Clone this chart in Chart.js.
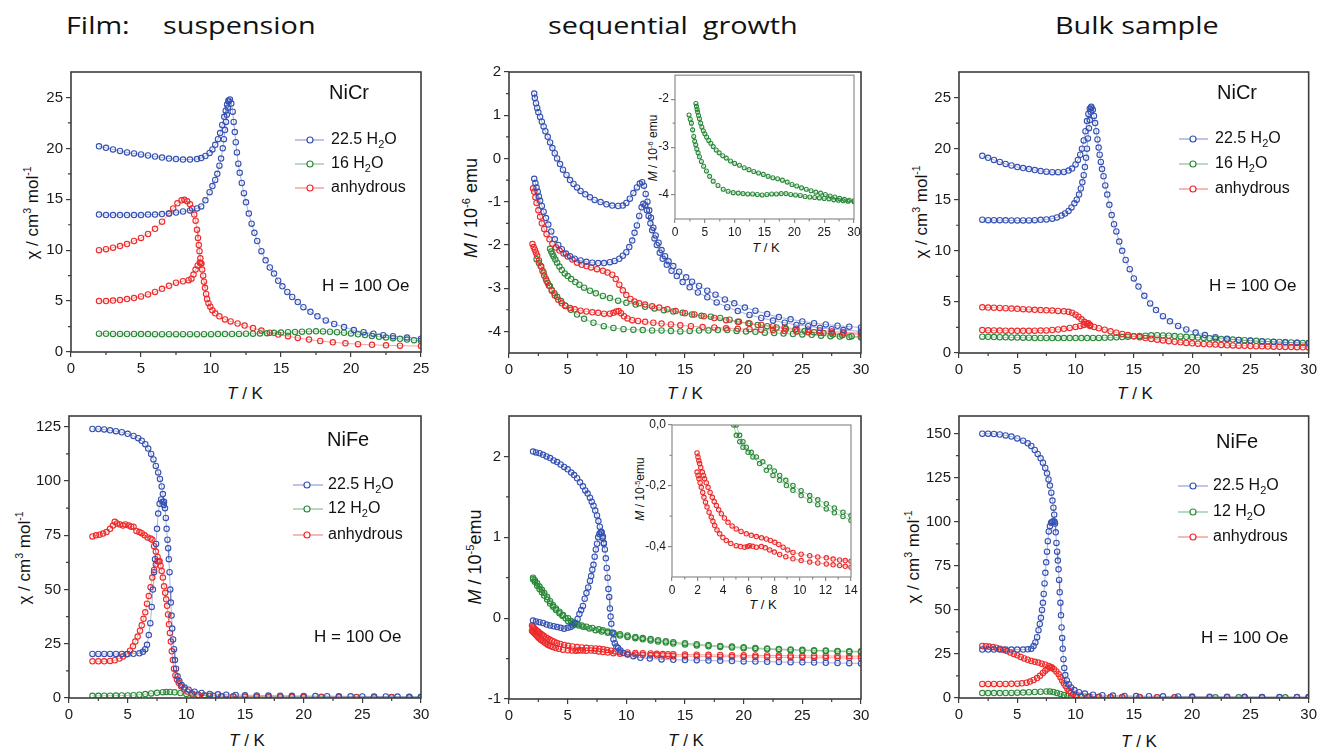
<!DOCTYPE html>
<html>
<head>
<meta charset="utf-8">
<script src="https://cdn.jsdelivr.net/npm/chart.js"></script>
<style>
  body { margin: 0; background: #fff; }
  #page { position: relative; width: 1320px; height: 751px; overflow: hidden; font-family: "Liberation Sans", Arial, sans-serif; color: #111; }
  .head { position: absolute; top: 13px; font-family: "Open Sans", sans-serif; font-size: 24px; line-height: 24px; transform-origin: left center; transform: scaleX(1.2); white-space: pre; color: #111; }
  .xt, .yt { position: absolute; white-space: nowrap; font-size: 17px; line-height: 1; }
  .xt { transform: translate(-50%, -50%); }
  .yt { transform: translate(-50%, -50%) rotate(-90deg); }
  .small { font-size: 12px; }
  sup { font-size: 0.62em; vertical-align: 0.6em; line-height: 0; }
</style>
</head>
<body>
<div id="page">
  <div class="head" style="left:66px">Film:</div>
  <div class="head" style="left:163px">suspension</div>
  <div class="head" style="left:548px">sequential  growth</div>
  <div class="head" style="left:1055px">Bulk sample</div>

  <div class="xt" style="left:245px;top:393px"><i>T</i> / K</div>
  <div class="xt" style="left:685px;top:393px"><i>T</i> / K</div>
  <div class="xt" style="left:1135px;top:393px"><i>T</i> / K</div>
  <div class="xt" style="left:247px;top:740px"><i>T</i> / K</div>
  <div class="xt" style="left:686px;top:740px"><i>T</i> / K</div>
  <div class="xt" style="left:1139px;top:741px"><i>T</i> / K</div>

  <div class="yt" style="left:32px;top:213px">χ / cm<sup>3</sup> mol<sup>-1</sup></div>
  <div class="yt" style="left:471px;top:208px;font-size:18px"><i>M</i> / 10<sup>-6</sup> emu</div>
  <div class="yt" style="left:921px;top:212px">χ / cm<sup>3</sup> mol<sup>-1</sup></div>
  <div class="yt" style="left:24px;top:558px">χ / cm<sup>3</sup> mol<sup>-1</sup></div>
  <div class="yt" style="left:475px;top:557px;font-size:18px"><i>M</i> / 10<sup>-5</sup>emu</div>
  <div class="yt" style="left:913px;top:557px">χ / cm<sup>3</sup> mol<sup>-1</sup></div>

  <div class="xt" style="left:766px;top:247px;font-size:13px"><i>T</i> / K</div>
  <div class="yt small" style="left:653px;top:148px"><i>M</i> / 10<sup>-6</sup> emu</div>
  <div class="xt" style="left:763px;top:604px;font-size:13px"><i>T</i> / K</div>
  <div class="yt small" style="left:640px;top:489px"><i>M</i> / 10<sup>-5</sup>emu</div>
</div>
<script>
// ---- Film (suspension), NiCr : [T, chi] ----
const susCrFC225 = [[2,20.2],[2.5,20.05],[3,19.9],[3.5,19.75],[4,19.6],[4.5,19.5],[5,19.4],[5.5,19.3],[6,19.2],[6.5,19.1],[7,19.0],[7.5,18.95],[8,18.9],[8.5,18.9],[9,18.95],[9.3,19.05],[9.6,19.25],[9.9,19.55],[10.1,19.9],[10.3,20.35],[10.5,20.9],[10.65,21.5],[10.8,22.3],[10.95,23.1],[11.05,23.7],[11.15,24.3],[11.25,24.7],[11.35,24.8],[11.45,24.4],[11.55,23.6],[11.62,22.6],[11.7,21.6],[11.77,20.6],[11.85,19.6],[11.95,18.5],[12.05,17.6],[12.2,16.6],[12.35,15.6],[12.5,14.7],[12.7,13.6],[12.9,12.6],[13.1,11.7],[13.3,10.9],[13.6,9.9],[13.9,9.0],[14.2,8.3],[14.5,7.7],[14.8,7.0],[15.1,6.45],[15.45,5.9],[15.8,5.4],[16.2,4.9],[16.6,4.4],[17.1,3.95],[17.6,3.5],[18.2,3.1],[18.8,2.75],[19.5,2.45],[20.2,2.15],[20.9,1.95],[21.6,1.8],[22.3,1.65],[23,1.55],[24,1.42],[25,1.3]];
const susCrZFC225 = [[2,13.5],[2.5,13.45],[3,13.45],[3.5,13.45],[4,13.45],[4.5,13.45],[5,13.45],[5.5,13.5],[6,13.5],[6.5,13.55],[7,13.6],[7.5,13.7],[8,13.8],[8.5,13.9],[9,14.1],[9.3,14.3],[9.6,14.9],[9.9,15.7],[10.1,16.3],[10.3,16.9],[10.45,17.5],[10.6,18.3],[10.72,19.0],[10.84,20.0],[10.92,20.9],[11.0,21.8],[11.07,22.6],[11.13,23.3],[11.2,24.0],[11.25,24.6]];
const susCr16 = [[2,1.8],[2.5,1.79],[3,1.78],[3.5,1.78],[4,1.77],[4.5,1.77],[5,1.76],[5.5,1.76],[6,1.75],[6.5,1.75],[7,1.75],[7.5,1.75],[8,1.75],[8.5,1.75],[9,1.75],[9.5,1.75],[10,1.75],[10.5,1.76],[11,1.76],[11.5,1.77],[12,1.78],[12.5,1.79],[13,1.8],[13.5,1.82],[14,1.85],[14.5,1.88],[15,1.91],[15.5,1.94],[16,1.97],[16.5,2.0],[17,2.02],[17.5,2.03],[18,2.02],[18.5,1.99],[19,1.95],[19.5,1.89],[20,1.82],[20.5,1.74],[21,1.66],[21.5,1.58],[22,1.5],[22.5,1.43],[23,1.36],[23.5,1.29],[24,1.22],[24.5,1.16],[25,1.1]];
const susCrAnhFC = [[2,10.0],[2.5,10.1],[3,10.25],[3.5,10.4],[4,10.6],[4.5,10.9],[5,11.2],[5.5,11.6],[6,12.1],[6.5,12.8],[7,13.6],[7.3,14.1],[7.6,14.6],[7.9,14.9],[8.1,14.95],[8.3,14.8],[8.5,14.5],[8.65,14.1],[8.8,13.5],[8.9,12.9],[9.0,12.0],[9.07,11.2],[9.13,10.5],[9.18,9.9],[9.24,9.2],[9.3,8.7],[9.37,8.1],[9.44,7.5],[9.5,6.9],[9.57,6.3],[9.65,5.7],[9.72,5.2],[9.82,4.8],[9.95,4.45],[10.1,4.1],[10.3,3.8],[10.6,3.5],[11.0,3.2],[11.4,3.0],[11.9,2.8],[12.4,2.6],[13,2.35],[13.6,2.1],[14.2,1.9],[14.8,1.72],[15.5,1.55],[16.2,1.38],[17,1.22],[17.8,1.08],[18.7,0.95],[19.6,0.85],[20.5,0.77],[21.5,0.7],[22.5,0.66],[23.5,0.62],[25,0.58]];
const susCrAnhZFC = [[2,5.0],[2.5,5.0],[3,5.05],[3.5,5.1],[4,5.2],[4.5,5.3],[5,5.45],[5.5,5.65],[6,5.9],[6.5,6.2],[7,6.5],[7.5,6.8],[8,6.95],[8.4,7.05],[8.6,7.2],[8.75,7.6],[8.9,8.1],[9.05,8.5],[9.2,8.8],[9.3,8.7]];

// ---- Sequential growth, NiCr : [T, M / 1e-6 emu] ----
const seqCrFC225 = [[2.15,1.5],[2.2,1.4],[2.3,1.28],[2.4,1.17],[2.5,1.07],[2.65,0.96],[2.8,0.85],[2.95,0.74],[3.1,0.63],[3.3,0.5],[3.5,0.37],[3.7,0.24],[3.9,0.12],[4.1,0.0],[4.35,-0.13],[4.6,-0.26],[4.9,-0.38],[5.2,-0.5],[5.5,-0.59],[5.8,-0.67],[6.1,-0.75],[6.5,-0.83],[6.9,-0.9],[7.3,-0.96],[7.8,-1.01],[8.3,-1.06],[8.8,-1.09],[9.3,-1.1],[9.7,-1.09],[10.0,-1.03],[10.3,-0.93],[10.6,-0.8],[10.9,-0.67],[11.15,-0.58],[11.35,-0.55],[11.5,-0.63],[11.65,-0.82],[11.8,-1.0],[11.95,-1.2],[12.1,-1.37],[12.3,-1.6],[12.5,-1.78],[12.75,-1.95],[13.0,-2.12],[13.3,-2.26],[13.6,-2.38],[14.0,-2.49],[14.5,-2.62],[15.1,-2.75],[15.6,-2.85],[16.2,-2.95],[16.9,-3.06],[17.6,-3.15],[18.4,-3.26],[19.2,-3.35],[20.1,-3.45],[21,-3.52],[22,-3.6],[23,-3.67],[24,-3.72],[25,-3.77],[26,-3.81],[27,-3.84],[28,-3.87],[29,-3.89],[30,-3.91]];
const seqCrZFC225 = [[2.15,-0.47],[2.25,-0.57],[2.35,-0.67],[2.45,-0.77],[2.55,-0.88],[2.65,-0.98],[2.8,-1.1],[2.95,-1.23],[3.15,-1.38],[3.35,-1.53],[3.6,-1.69],[3.9,-1.87],[4.2,-2.0],[4.5,-2.1],[4.85,-2.2],[5.2,-2.26],[5.6,-2.32],[6.1,-2.36],[6.6,-2.39],[7.1,-2.41],[7.6,-2.42],[8.1,-2.42],[8.6,-2.4],[9.0,-2.37],[9.4,-2.32],[9.7,-2.25],[10.0,-2.17],[10.25,-2.05],[10.5,-1.9],[10.7,-1.72],[10.9,-1.55],[11.1,-1.33],[11.3,-1.13],[11.45,-1.05],[11.6,-1.08],[11.75,-1.2],[11.9,-1.33],[12.05,-1.5],[12.2,-1.66],[12.4,-1.85],[12.6,-2.0],[12.85,-2.18],[13.1,-2.32],[13.45,-2.46],[13.85,-2.6],[14.3,-2.72],[14.8,-2.86],[15.4,-2.98],[16.1,-3.1],[16.9,-3.21],[17.7,-3.33],[18.6,-3.44],[19.5,-3.53],[20.5,-3.62],[21.5,-3.69],[22.5,-3.75],[23.5,-3.8],[24.5,-3.85],[25.5,-3.88],[26.5,-3.92],[27.5,-3.95],[28.5,-3.97],[30,-4.0]];
const seqCr16FC = [[3.5,-2.09],[3.6,-2.15],[3.7,-2.21],[3.8,-2.27],[3.95,-2.34],[4.1,-2.41],[4.3,-2.5],[4.5,-2.58],[4.75,-2.66],[5.0,-2.72],[5.3,-2.79],[5.65,-2.86],[6.0,-2.92],[6.4,-2.99],[6.9,-3.06],[7.4,-3.12],[8.0,-3.18],[8.6,-3.23],[9.3,-3.29],[10.0,-3.34],[10.8,-3.38],[11.6,-3.43],[12.4,-3.47],[13.2,-3.51],[14.0,-3.54],[14.8,-3.57],[15.6,-3.61],[16.4,-3.64],[17.2,-3.66],[18.0,-3.69],[18.8,-3.73],[19.6,-3.78],[20.4,-3.81],[21.2,-3.85],[22.0,-3.88],[22.8,-3.91],[23.6,-3.94],[24.4,-3.96],[25.2,-3.99],[26,-4.02],[26.8,-4.04],[27.6,-4.07],[28.4,-4.09],[29.2,-4.11],[30,-4.12]];
const seqCr16ZFC = [[2.35,-2.33],[2.55,-2.42],[2.75,-2.5],[2.95,-2.64],[3.14,-2.78],[3.3,-2.88],[3.48,-2.95],[3.65,-3.04],[3.87,-3.12],[4.1,-3.2],[4.43,-3.3],[4.8,-3.4],[5.27,-3.5],[5.8,-3.61],[6.4,-3.71],[7.2,-3.8],[8.08,-3.88],[8.9,-3.92],[9.76,-3.95],[10.6,-3.96],[11.4,-3.97],[12.2,-3.98],[13.0,-3.98],[13.8,-3.99],[14.6,-4.0],[15.4,-3.99],[16.2,-3.98],[17.0,-3.98],[17.8,-3.97],[18.6,-3.97],[19.4,-3.99],[20.2,-4.0],[21.0,-4.01],[21.8,-4.03],[22.6,-4.04],[23.4,-4.05],[24.2,-4.06],[25,-4.07],[25.8,-4.08],[26.6,-4.1],[27.4,-4.11],[28.2,-4.12],[29,-4.13],[30,-4.14]];
const seqCrAnhFC = [[2.05,-0.69],[2.15,-0.77],[2.25,-0.9],[2.35,-1.03],[2.5,-1.2],[2.65,-1.35],[2.8,-1.5],[3.0,-1.63],[3.2,-1.75],[3.45,-1.87],[3.7,-1.97],[4.0,-2.06],[4.3,-2.13],[4.65,-2.2],[5.0,-2.27],[5.4,-2.34],[5.8,-2.41],[6.2,-2.46],[6.6,-2.49],[7.0,-2.52],[7.5,-2.56],[8.0,-2.6],[8.4,-2.64],[8.8,-2.69],[9.1,-2.79],[9.4,-2.92],[9.7,-3.05],[10.0,-3.16],[10.35,-3.25],[10.7,-3.31],[11.1,-3.35],[11.6,-3.38],[12.2,-3.42],[12.8,-3.45],[13.5,-3.49],[14.2,-3.53],[15,-3.58],[15.8,-3.61],[16.6,-3.65],[17.5,-3.69],[18.5,-3.74],[19.5,-3.78],[20.5,-3.82],[21.5,-3.85],[22.5,-3.88],[23.5,-3.91],[24.5,-3.94],[25.5,-3.96],[26.5,-3.98],[27.5,-4.0],[28.5,-4.02],[30,-4.04]];
const seqCrAnhZFC = [[2.0,-1.98],[2.1,-2.05],[2.2,-2.11],[2.3,-2.18],[2.4,-2.25],[2.55,-2.36],[2.7,-2.49],[2.85,-2.6],[3.0,-2.71],[3.2,-2.83],[3.4,-2.94],[3.65,-3.06],[3.9,-3.17],[4.2,-3.27],[4.5,-3.35],[4.8,-3.41],[5.2,-3.46],[5.6,-3.49],[6.1,-3.52],[6.6,-3.54],[7.1,-3.56],[7.6,-3.57],[8.1,-3.59],[8.6,-3.59],[8.9,-3.57],[9.15,-3.54],[9.35,-3.53],[9.55,-3.58],[9.8,-3.65],[10.1,-3.7],[10.5,-3.74],[11,-3.76],[11.6,-3.78],[12.3,-3.8],[13,-3.82],[13.8,-3.84],[14.6,-3.86],[15.5,-3.88],[16.5,-3.9],[17.5,-3.91],[18.5,-3.93],[19.5,-3.94],[20.5,-3.95],[21.5,-3.96],[22.5,-3.97],[23.5,-3.99],[24.5,-4.0],[25.5,-4.02],[26.5,-4.03],[27.5,-4.04],[28.5,-4.05],[30,-4.07]];

// ---- Bulk sample, NiCr ----
const bulkCrFC225 = [[2,19.3],[2.5,19.1],[3,18.9],[3.5,18.7],[4,18.5],[4.5,18.35],[5,18.2],[5.5,18.1],[6,18.0],[6.5,17.9],[7,17.8],[7.5,17.75],[8,17.7],[8.5,17.7],[9,17.72],[9.4,17.85],[9.7,18.05],[10.0,18.45],[10.2,18.9],[10.4,19.4],[10.55,20.0],[10.7,20.8],[10.85,21.7],[10.98,22.7],[11.1,23.4],[11.22,23.9],[11.35,24.1],[11.48,23.8],[11.58,23.2],[11.68,22.5],[11.78,21.7],[11.88,20.9],[11.98,20.1],[12.07,19.4],[12.17,18.7],[12.27,18.0],[12.4,17.3],[12.55,16.4],[12.72,15.5],[12.9,14.5],[13.1,13.5],[13.3,12.6],[13.5,11.9],[13.75,10.9],[14.0,10.0],[14.3,9.1],[14.65,8.2],[15.0,7.3],[15.4,6.5],[15.9,5.6],[16.4,4.85],[16.9,4.2],[17.5,3.6],[18.1,3.1],[18.8,2.65],[19.5,2.3],[20.3,2.0],[21.1,1.75],[22,1.55],[23,1.4],[24,1.28],[25,1.2],[26,1.13],[27,1.08],[28,1.04],[29,1.0],[30,0.97]];
const bulkCrZFC225 = [[2,13.05],[2.5,13.0],[3,13.0],[3.5,13.0],[4,12.98],[4.5,12.97],[5,12.97],[5.5,12.97],[6,12.97],[6.5,13.0],[7,13.03],[7.5,13.07],[8,13.15],[8.4,13.27],[8.8,13.45],[9.1,13.65],[9.4,13.9],[9.65,14.25],[9.9,14.65],[10.1,15.0],[10.3,15.5],[10.45,16.1],[10.58,16.7],[10.7,17.4],[10.8,18.2],[10.9,19.1],[10.98,20.0],[11.06,21.0],[11.15,22.0],[11.22,22.8],[11.3,23.6],[11.35,24.0]];
const bulkCr16 = [[2,1.6],[2.5,1.58],[3,1.56],[3.5,1.55],[4,1.53],[4.5,1.52],[5,1.51],[5.5,1.5],[6,1.49],[6.5,1.48],[7,1.47],[7.5,1.47],[8,1.46],[8.5,1.46],[9,1.46],[9.5,1.46],[10,1.46],[10.5,1.46],[11,1.46],[11.5,1.47],[12,1.48],[12.5,1.49],[13,1.51],[13.5,1.53],[14,1.56],[14.5,1.6],[15,1.63],[15.5,1.66],[16,1.7],[16.5,1.73],[17,1.74],[17.5,1.72],[18,1.7],[18.5,1.66],[19,1.62],[19.5,1.58],[20,1.55],[20.5,1.51],[21,1.48],[21.5,1.45],[22,1.41],[22.5,1.38],[23,1.34],[23.5,1.31],[24,1.28],[24.5,1.25],[25,1.22],[25.5,1.19],[26,1.16],[26.5,1.13],[27,1.1],[27.5,1.08],[28,1.05],[28.5,1.03],[29,1.0],[29.5,0.98],[30,0.95]];
const bulkCrAnhFC = [[2,4.47],[2.5,4.45],[3,4.43],[3.5,4.41],[4,4.38],[4.5,4.35],[5,4.32],[5.5,4.29],[6,4.26],[6.5,4.23],[7,4.2],[7.5,4.18],[8,4.15],[8.5,4.12],[9,4.08],[9.4,4.03],[9.7,3.94],[10.0,3.75],[10.25,3.55],[10.5,3.3],[10.75,3.05],[11.0,2.82],[11.25,2.65],[11.6,2.55],[12.0,2.42],[12.5,2.28],[13,2.12],[13.5,1.99],[14,1.86],[14.5,1.75],[15,1.64],[15.5,1.55],[16,1.46],[16.5,1.38],[17,1.3],[17.5,1.23],[18,1.16],[18.5,1.1],[19,1.04],[19.5,0.99],[20,0.95],[20.5,0.91],[21,0.88],[21.5,0.85],[22,0.82],[22.5,0.79],[23,0.76],[23.5,0.74],[24,0.72],[24.5,0.7],[25,0.68],[25.5,0.66],[26,0.65],[26.5,0.63],[27,0.62],[27.5,0.6],[28,0.59],[28.5,0.58],[29,0.57],[29.5,0.56],[30,0.55]];
const bulkCrAnhZFC = [[2,2.24],[2.5,2.22],[3,2.2],[3.5,2.19],[4,2.18],[4.5,2.17],[5,2.17],[5.5,2.17],[6,2.17],[6.5,2.18],[7,2.19],[7.5,2.21],[8,2.25],[8.5,2.3],[9,2.37],[9.5,2.45],[10,2.55],[10.4,2.65],[10.7,2.75],[10.95,2.88],[11.1,2.9],[11.25,2.75]];

// ---- Film (suspension), NiFe ----
const susFeFC225 = [[2,124],[2.5,124],[3,123.8],[3.5,123.4],[4,123],[4.5,122.5],[5,121.8],[5.5,120.8],[5.9,119.8],[6.2,118.6],[6.5,117],[6.75,115],[7.0,112.5],[7.2,110],[7.4,107],[7.6,104],[7.75,101],[7.9,97.5],[8.0,94],[8.1,90.5],[8.18,87.5],[8.25,83],[8.32,78],[8.39,73],[8.45,69],[8.51,64],[8.57,58],[8.63,50],[8.68,44],[8.74,38],[8.8,32],[8.87,27],[8.95,22.5],[9.03,17.5],[9.12,13.5],[9.25,10],[9.4,7.8],[9.6,6.0],[9.85,4.8],[10.2,3.8],[10.7,2.9],[11.3,2.3],[12,1.9],[12.7,1.7],[13.4,1.55],[14.2,1.4],[15,1.3],[16,1.2],[17,1.12],[18,1.05],[19,1.0],[20,0.95],[21,0.9],[22,0.85],[23,0.81],[24,0.78],[25,0.74],[26,0.7],[27,0.68],[28,0.65],[29,0.62],[30,0.6]];
const susFeZFC225 = [[2,20.3],[2.5,20.3],[3,20.3],[3.5,20.3],[4,20.3],[4.5,20.3],[5,20.3],[5.5,20.4],[6.0,20.6],[6.3,21.3],[6.5,22.5],[6.65,24.5],[6.8,29],[6.93,34.5],[7.05,42],[7.15,50],[7.25,58],[7.33,64],[7.42,71],[7.5,78],[7.6,85],[7.72,89.5],[7.85,91.5],[7.97,90.5],[8.08,89]];
const susFe12 = [[2,1.0],[2.5,1.0],[3,1.05],[3.5,1.08],[4,1.1],[4.5,1.15],[5,1.2],[5.5,1.3],[6,1.5],[6.5,1.8],[7,2.1],[7.5,2.4],[8,2.7],[8.3,2.8],[8.6,2.8],[9,2.6],[9.5,2.3],[10,1.9],[10.5,1.6],[11,1.3],[11.5,1.15],[12,1.0],[13,0.85],[14,0.75],[15,0.7],[16,0.65],[17,0.62],[18,0.58],[19,0.56],[20,0.54],[21.5,0.52],[23,0.5],[24.5,0.48],[26,0.46],[27.5,0.44],[29,0.43],[30,0.42]];
const susFeAnhFC = [[2,74.5],[2.3,75],[2.6,75.3],[2.9,75.8],[3.2,76.5],[3.5,78],[3.75,79.5],[3.9,81.2],[4.1,80.5],[4.35,80],[4.6,79.5],[4.8,80],[5.1,79.5],[5.3,79],[5.5,79],[5.75,77],[6.0,76.5],[6.2,76],[6.45,75],[6.7,74],[6.95,73.5],[7.1,73],[7.25,70],[7.4,67.5],[7.55,65],[7.7,63],[7.8,61],[7.9,58.5],[8.0,55.5],[8.1,51.5],[8.2,48.5],[8.28,45.5],[8.36,42.5],[8.44,38.5],[8.52,34],[8.6,30],[8.68,26],[8.76,21.5],[8.85,17.5],[8.95,13.5],[9.07,10.5],[9.2,8.5],[9.35,7],[9.55,5.4],[9.8,4],[10.1,3],[10.5,2.1],[11,1.5],[11.6,1.2],[12.3,1.0],[13,0.85],[14,0.7],[15,0.6],[16,0.55],[17,0.5],[18,0.47],[19,0.45],[20,0.42],[21.5,0.4],[23,0.37],[24.5,0.34],[26,0.31],[27.5,0.29],[29,0.27],[30,0.26]];
const susFeAnhZFC = [[2,16.9],[2.5,16.9],[3,16.9],[3.5,17.1],[3.9,17.4],[4.3,18.2],[4.6,19.1],[4.9,20.2],[5.2,21.8],[5.45,23.8],[5.65,26],[5.85,28.3],[6.05,31],[6.2,33.5],[6.35,36.5],[6.5,39.5],[6.65,43.5],[6.8,47],[6.95,51],[7.1,55.5],[7.25,59],[7.4,61.5],[7.55,63],[7.7,63]];

// ---- Sequential growth, NiFe : [T, M / 1e-5 emu] ----
const seqFeFC225 = [[2.05,2.06],[2.3,2.05],[2.6,2.04],[2.9,2.02],[3.2,2.0],[3.5,1.98],[3.8,1.95],[4.1,1.93],[4.4,1.9],[4.7,1.87],[5.0,1.84],[5.3,1.8],[5.55,1.77],[5.8,1.73],[6.05,1.68],[6.3,1.63],[6.5,1.58],[6.7,1.54],[6.9,1.49],[7.05,1.44],[7.2,1.39],[7.35,1.33],[7.5,1.27],[7.62,1.2],[7.74,1.13],[7.86,1.07],[7.98,0.99],[8.08,0.92],[8.17,0.85],[8.25,0.74],[8.33,0.62],[8.4,0.5],[8.47,0.36],[8.54,0.26],[8.6,0.12],[8.66,0.02],[8.72,-0.07],[8.8,-0.18],[8.9,-0.26],[9.02,-0.31],[9.15,-0.35],[9.3,-0.37],[9.5,-0.4],[9.75,-0.43],[10.1,-0.45],[10.6,-0.47],[11.2,-0.49],[12,-0.5],[13,-0.51],[14,-0.515],[15,-0.518],[16,-0.52],[17,-0.525],[18,-0.528],[19,-0.53],[20,-0.535],[21,-0.537],[22,-0.54],[23,-0.542],[24,-0.545],[25,-0.547],[26,-0.55],[27,-0.552],[28,-0.555],[29,-0.557],[30,-0.56]];
const seqFeZFC225 = [[2.05,-0.03],[2.3,-0.04],[2.6,-0.05],[2.9,-0.06],[3.2,-0.08],[3.5,-0.09],[3.8,-0.1],[4.1,-0.11],[4.4,-0.12],[4.7,-0.13],[5.0,-0.12],[5.25,-0.11],[5.45,-0.09],[5.65,-0.06],[5.85,-0.01],[6.0,0.05],[6.15,0.1],[6.3,0.15],[6.45,0.24],[6.6,0.31],[6.75,0.38],[6.9,0.46],[7.0,0.52],[7.1,0.6],[7.2,0.66],[7.3,0.76],[7.4,0.85],[7.5,0.92],[7.6,1.0],[7.7,1.04],[7.8,1.06],[7.9,1.06],[8.0,1.01],[8.08,0.93]];
const seqFe12A = [[2.05,0.5],[2.2,0.47],[2.4,0.43],[2.6,0.39],[2.8,0.35],[3.0,0.31],[3.25,0.26],[3.5,0.21],[3.75,0.16],[4.0,0.12],[4.3,0.08],[4.6,0.04],[5.03,0.0],[5.29,-0.034],[5.55,-0.055],[5.81,-0.073],[6.2,-0.09],[6.6,-0.105],[7.1,-0.121],[7.64,-0.138],[8.0,-0.151],[8.42,-0.166],[8.9,-0.182],[9.46,-0.199],[10.1,-0.216],[10.77,-0.232],[11.4,-0.246],[12.07,-0.259],[12.7,-0.273],[13.37,-0.287],[14.0,-0.298],[15,-0.31],[16,-0.322],[17,-0.333],[18,-0.343],[19,-0.352],[20,-0.36],[21,-0.368],[22,-0.375],[23,-0.381],[24,-0.387],[25,-0.392],[26,-0.397],[27,-0.401],[28,-0.405],[29,-0.408],[30,-0.41]];
const seqFe12B = [[2.05,0.48],[2.2,0.45],[2.4,0.4],[2.6,0.36],[2.8,0.32],[3.0,0.28],[3.25,0.23],[3.5,0.18],[3.75,0.14],[4.0,0.1],[4.3,0.06],[4.55,0.03],[4.82,0.0],[5.03,-0.034],[5.3,-0.055],[5.55,-0.073],[5.95,-0.09],[6.33,-0.105],[6.85,-0.127],[7.38,-0.149],[7.9,-0.166],[8.42,-0.182],[8.95,-0.199],[9.46,-0.215],[10.1,-0.232],[10.77,-0.248],[11.4,-0.262],[12.07,-0.276],[12.7,-0.289],[13.37,-0.301],[14.0,-0.314],[15,-0.326],[16,-0.337],[17,-0.347],[18,-0.356],[19,-0.364],[20,-0.372],[21,-0.379],[22,-0.385],[23,-0.391],[24,-0.396],[25,-0.401],[26,-0.405],[27,-0.409],[28,-0.413],[29,-0.417],[30,-0.42]];
const seqFeAnhA = [[1.96,-0.092],[2.03,-0.105],[2.1,-0.118],[2.16,-0.127],[2.25,-0.14],[2.37,-0.155],[2.46,-0.166],[2.55,-0.177],[2.68,-0.19],[2.82,-0.205],[2.98,-0.222],[3.15,-0.238],[3.3,-0.252],[3.47,-0.265],[3.65,-0.279],[3.86,-0.292],[4.1,-0.306],[4.38,-0.32],[4.7,-0.332],[5.03,-0.342],[5.4,-0.35],[5.81,-0.358],[6.2,-0.363],[6.6,-0.367],[7.0,-0.371],[7.38,-0.375],[7.7,-0.38],[8.04,-0.386],[8.35,-0.393],[8.69,-0.402],[9.05,-0.411],[9.46,-0.419],[10.1,-0.425],[10.77,-0.43],[11.4,-0.434],[12.07,-0.437],[12.6,-0.441],[13.11,-0.444],[13.55,-0.446],[14.0,-0.448]];
const seqFeAnhB = [[1.96,-0.155],[2.04,-0.166],[2.11,-0.177],[2.2,-0.19],[2.29,-0.205],[2.4,-0.222],[2.5,-0.238],[2.62,-0.254],[2.74,-0.27],[2.9,-0.287],[3.07,-0.303],[3.2,-0.317],[3.34,-0.331],[3.52,-0.345],[3.73,-0.358],[3.98,-0.37],[4.25,-0.38],[4.6,-0.39],[5.03,-0.397],[5.35,-0.4],[5.68,-0.402],[5.9,-0.4],[6.07,-0.397],[6.3,-0.399],[6.6,-0.402],[6.99,-0.4],[7.3,-0.404],[7.64,-0.411],[8.0,-0.418],[8.42,-0.426],[8.9,-0.433],[9.46,-0.44],[10.1,-0.446],[10.77,-0.451],[11.4,-0.454],[12.07,-0.457],[12.6,-0.46],[13.11,-0.462],[13.55,-0.465],[14.0,-0.468]];
const seqFeAnhATail = [[15,-0.45],[16,-0.452],[17,-0.454],[18,-0.456],[19,-0.458],[20,-0.46],[21,-0.461],[22,-0.462],[23,-0.463],[24,-0.465],[25,-0.466],[26,-0.467],[27,-0.468],[28,-0.469],[29,-0.47],[30,-0.47]];
const seqFeAnhBTail = [[15,-0.47],[16,-0.472],[17,-0.474],[18,-0.476],[19,-0.478],[20,-0.48],[21,-0.482],[22,-0.483],[23,-0.485],[24,-0.486],[25,-0.488],[26,-0.49],[27,-0.491],[28,-0.492],[29,-0.494],[30,-0.495]];

// ---- Bulk sample, NiFe ----
const bulkFeFC225 = [[2,150],[2.5,150],[3,149.8],[3.5,149.5],[4,149],[4.5,148.3],[5,147.3],[5.5,146],[5.9,144.5],[6.2,143],[6.5,140.7],[6.75,138.5],[7.0,136],[7.2,133.5],[7.4,130.5],[7.55,127.5],[7.68,124],[7.8,120.5],[7.92,116.5],[8.02,112],[8.1,108],[8.17,104],[8.24,99],[8.3,94],[8.36,88],[8.42,83],[8.48,78],[8.54,73],[8.59,67],[8.64,60],[8.7,54],[8.75,47],[8.8,40],[8.85,34],[8.9,28],[8.96,22],[9.03,17],[9.12,13],[9.25,10],[9.42,7.8],[9.62,6],[9.9,4.5],[10.3,3.3],[10.8,2.5],[11.5,1.9],[12.3,1.6],[13.2,1.35],[14.2,1.2],[15.2,1.1],[16.3,1.0],[17.5,0.93],[18.8,0.87],[20,0.8],[21.5,0.75],[23,0.7],[24.5,0.66],[26,0.62],[27.5,0.59],[29,0.56],[30,0.55]];
const bulkFeZFC225 = [[2,27.5],[2.5,27.5],[3,27.5],[3.5,27.5],[4,27.5],[4.5,27.5],[5,27.5],[5.5,27.5],[5.9,27.6],[6.2,28],[6.4,29.5],[6.55,31.5],[6.7,34.5],[6.82,38.5],[6.93,42],[7.03,45.5],[7.12,50],[7.2,54],[7.27,59],[7.34,65],[7.41,71],[7.48,77],[7.55,83],[7.62,89],[7.7,94.5],[7.8,97.5],[7.9,99.5],[8.0,100],[8.1,100.3],[8.2,100]];
const bulkFe12 = [[2,2.8],[2.5,2.8],[3,2.8],[3.5,2.8],[4,2.85],[4.5,2.9],[5,3.0],[5.5,3.1],[6,3.25],[6.5,3.4],[7,3.55],[7.5,3.7],[7.8,3.75],[8.1,3.4],[8.4,2.9],[8.7,2.3],[9.0,1.7],[9.3,1.2],[9.6,0.9],[10,0.7],[10.5,0.6],[11,0.55],[12,0.5],[13,0.47],[14,0.45],[15.5,0.43],[17,0.42],[18.5,0.41],[20,0.4],[22,0.39],[24,0.38],[26,0.37],[28,0.36],[30,0.36]];
const bulkFeAnhFC = [[2,29.5],[2.3,29.4],[2.6,29.2],[2.9,29.0],[3.2,28.5],[3.5,28.0],[3.8,27.4],[4.1,26.6],[4.4,25.8],[4.7,25.0],[5.0,24.2],[5.3,23.3],[5.6,22.4],[5.9,21.7],[6.2,21.0],[6.5,20.5],[6.8,20.1],[7.1,19.5],[7.4,18.9],[7.7,18.2],[7.95,17.3],[8.15,16.3],[8.35,15.1],[8.55,13.5],[8.7,11.8],[8.85,10],[9.0,8.3],[9.15,6.8],[9.3,5.3],[9.45,4.0],[9.6,3.0],[9.8,2.2],[10.1,1.5],[10.5,1.0],[11.2,0.8],[12,0.7],[13,0.62],[14,0.56],[15.5,0.52],[17,0.48],[18.5,0.45],[20,0.42],[21.5,0.41],[23,0.4],[24.5,0.39],[26,0.38],[27.5,0.37],[29,0.36],[30,0.36]];
const bulkFeAnhZFC = [[2,8.0],[2.5,8.0],[3,8.0],[3.5,8.0],[4,8.0],[4.5,8.05],[5,8.1],[5.4,8.3],[5.8,8.7],[6.1,9.3],[6.4,10.2],[6.7,11.3],[6.95,12.6],[7.2,14.2],[7.4,15.5],[7.6,16.6],[7.8,17.3],[7.95,17.3]];

// legend labels: [text, subscript, text]
const legendCr = [["22.5 H", "2", "O"], ["16 H", "2", "O"], ["anhydrous"]];
const legendFe = [["22.5 H", "2", "O"], ["12 H", "2", "O"], ["anhydrous"]];
const legendColors = ["b", "g", "r"];

const FONT = "'Liberation Sans', Arial, sans-serif";
Chart.defaults.font.family = FONT;

const COLORS = {
  b: { mark: "#3551b3", line: "rgba(53,81,179,0.55)" },
  g: { mark: "#2b8a3a", line: "rgba(43,138,58,0.55)" },
  r: { mark: "#ee2a2a", line: "rgba(238,42,42,0.55)" }
};

function series(points, c, radius = 2.7) {
  return {
    data: points.map(([x, y]) => ({ x, y })),
    showLine: true,
    borderColor: COLORS[c].line,
    borderWidth: 0.8,
    pointRadius: radius,
    pointBorderWidth: 1.1,
    pointBorderColor: COLORS[c].mark,
    pointBackgroundColor: "rgba(255,255,255,0)"
  };
}

// labelled tick values inside [min, max]
function majorValues(r) {
  const [min, max, major] = r;
  const out = [];
  for (let k = Math.ceil(min / major - 1e-9); k * major <= max + 1e-9; k++) {
    out.push(Math.round(k * major * 1e6) / 1e6);
  }
  return out;
}

// minor tick values between the labelled ones
function minorValues(r) {
  const [min, max, major, minor] = r;
  const out = [];
  for (let k = Math.ceil(min / minor - 1e-9); k * minor <= max + 1e-9; k++) {
    const v = k * minor;
    if (v <= min + 1e-9 || v >= max - 1e-9) continue;
    if (Math.abs(v / major - Math.round(v / major)) < 1e-6) continue;
    out.push(v);
  }
  return out;
}

function drawLabel(ctx, parts, x, y, size) {
  ctx.font = `${size}px ${FONT}`;
  ctx.fillText(parts[0], x, y);
  if (parts.length < 2) return;
  x += ctx.measureText(parts[0]).width;
  ctx.font = `${Math.round(size * 0.66)}px ${FONT}`;
  ctx.fillText(parts[1], x, y + size * 0.32);
  x += ctx.measureText(parts[1]).width;
  ctx.font = `${size}px ${FONT}`;
  ctx.fillText(parts[2], x, y);
}

// frame, minor ticks, in-plot texts and legend
function decor(p, frame, tick) {
  return {
    id: "decor",
    afterDraw(chart) {
      const { ctx, chartArea: a, scales } = chart;
      const [bx, by] = p.box;
      ctx.save();
      ctx.strokeStyle = frame;
      ctx.lineWidth = 1.2;
      ctx.beginPath();
      minorValues(p.x).forEach(v => {
        const px = scales.x.getPixelForValue(v);
        ctx.moveTo(px, a.bottom);
        ctx.lineTo(px, a.bottom + tick * 0.6);
      });
      minorValues(p.y).forEach(v => {
        const py = scales.y.getPixelForValue(v);
        ctx.moveTo(a.left, py);
        ctx.lineTo(a.left - tick * 0.6, py);
      });
      ctx.stroke();
      ctx.lineWidth = p.inset ? 1.2 : 1.6;
      ctx.strokeRect(a.left, a.top, a.right - a.left, a.bottom - a.top);

      ctx.fillStyle = "#111";
      ctx.textBaseline = "middle";
      (p.notes || []).forEach(n => {
        ctx.font = `${n[3]}px ${FONT}`;
        ctx.fillText(n[0], n[1] - bx, n[2] - by);
      });
      const L = p.legend;
      if (L) {
        L.rows.forEach((ry, i) => {
          const c = COLORS[legendColors[i]];
          const y = ry - by;
          ctx.strokeStyle = c.line;
          ctx.lineWidth = 1.2;
          ctx.beginPath();
          ctx.moveTo(L.x0 - bx, y);
          ctx.lineTo(L.x1 - bx, y);
          ctx.stroke();
          ctx.beginPath();
          ctx.arc(L.cx - bx, y, 3, 0, Math.PI * 2);
          ctx.fillStyle = "#fff";
          ctx.fill();
          ctx.strokeStyle = c.mark;
          ctx.stroke();
          ctx.fillStyle = "#111";
          drawLabel(ctx, L.labels[i], L.tx - bx, y, 16);
        });
      }
      ctx.restore();
    }
  };
}

const page = document.getElementById("page");

function makePanel(p) {
  const [bx, by, bw, bh] = p.box;
  const [pl, pt, pr, pb] = p.plot;
  const cv = document.createElement("canvas");
  cv.width = bw;
  cv.height = bh;
  cv.style.cssText = `position:absolute;left:${bx}px;top:${by}px;width:${bw}px;height:${bh}px`;
  page.appendChild(cv);

  const fs = p.inset ? 12 : 15;
  const tick = p.inset ? 4 : 5;
  const frame = p.inset ? "#8c8c8c" : "#3c3c3c";
  const axis = (r, fit, fmt) => ({
    type: "linear",
    min: r[0],
    max: r[1],
    afterBuildTicks: s => { s.ticks = majorValues(r).map(v => ({ value: v })); },
    ticks: {
      autoSkip: false,
      maxRotation: 0,
      padding: p.inset ? 2 : 3,
      color: "#1a1a1a",
      font: { size: fs },
      callback: fmt || (v => String(v))
    },
    grid: { drawOnChartArea: false, drawTicks: true, tickLength: tick, color: frame, lineWidth: 1.2 },
    border: { display: false },
    afterFit: fit
  });

  new Chart(cv, {
    type: "scatter",
    data: { datasets: p.sets },
    options: {
      responsive: false,
      animation: false,
      events: [],
      layout: { padding: { left: 0, bottom: 0, top: pt - by, right: bx + bw - pr } },
      plugins: { legend: { display: false }, tooltip: { enabled: false } },
      scales: {
        x: axis(p.x, s => { s.height = by + bh - pb; }, p.xFmt),
        y: axis(p.y, s => { s.width = pl - bx; }, p.yFmt)
      }
    },
    plugins: [decor(p, frame, tick)]
  });
}

const comma = v => v.toFixed(1).replace(".", ",");

const panels = [
  { box: [0, 60, 440, 340], plot: [71, 71, 421, 352], x: [0, 25, 5, 2.5], y: [0, 27.5, 5, 2.5],
    sets: [series(susCrFC225, "b"), series(susCrZFC225, "b"), series(susCr16, "g"), series(susCrAnhFC, "r"), series(susCrAnhZFC, "r")],
    notes: [["NiCr", 329, 93, 20], ["H = 100 Oe", 322, 286, 17]],
    legend: { x0: 295, x1: 324, cx: 310, tx: 331, rows: [140, 164, 188], labels: legendCr } },
  { box: [440, 60, 440, 340], plot: [509, 69, 861, 353], x: [0, 30, 5, 2.5], y: [-4.5, 2, 1, 0.5],
    sets: [series(seqCrFC225, "b"), series(seqCrZFC225, "b"), series(seqCrAnhFC, "r"), series(seqCrAnhZFC, "r"), series(seqCr16FC, "g"), series(seqCr16ZFC, "g")] },
  { box: [880, 60, 440, 340], plot: [959, 71, 1310, 353], x: [0, 30, 5, 2.5], y: [0, 27.5, 5, 2.5],
    sets: [series(bulkCrFC225, "b"), series(bulkCrZFC225, "b"), series(bulkCrAnhFC, "r"), series(bulkCrAnhZFC, "r"), series(bulkCr16, "g")],
    notes: [["NiCr", 1217, 93, 20], ["H = 100 Oe", 1209, 286, 17]],
    legend: { x0: 1179, x1: 1208, cx: 1193, tx: 1215, rows: [139, 164, 189], labels: legendCr } },
  { box: [0, 400, 440, 351], plot: [69, 416, 421, 698], x: [0, 30, 5, 2.5], y: [0, 130, 25, 12.5],
    sets: [series(susFeFC225, "b"), series(susFeZFC225, "b"), series(susFeAnhFC, "r"), series(susFeAnhZFC, "r"), series(susFe12, "g")],
    notes: [["NiFe", 327, 440, 20], ["H = 100 Oe", 314, 637, 17]],
    legend: { x0: 293, x1: 323, cx: 307, tx: 328, rows: [485, 509, 535], labels: legendFe } },
  { box: [440, 400, 440, 351], plot: [509, 416, 861, 699], x: [0, 30, 5, 2.5], y: [-1, 2.5, 1, 0.5],
    sets: [series(seqFeFC225, "b"), series(seqFeZFC225, "b"), series(seqFe12A, "g"), series(seqFe12B, "g"),
           series(seqFeAnhA.concat(seqFeAnhATail), "r"), series(seqFeAnhB.concat(seqFeAnhBTail), "r")] },
  { box: [880, 400, 440, 351], plot: [959, 416, 1310, 698], x: [0, 30, 5, 2.5], y: [0, 160, 25, 12.5],
    sets: [series(bulkFeFC225, "b"), series(bulkFeZFC225, "b"), series(bulkFeAnhFC, "r"), series(bulkFeAnhZFC, "r"), series(bulkFe12, "g")],
    notes: [["NiFe", 1216, 442, 20], ["H = 100 Oe", 1201, 638, 17]],
    legend: { x0: 1178, x1: 1208, cx: 1193, tx: 1213, rows: [486, 512, 537], labels: legendFe } },
  // insets
  { inset: true, box: [600, 66, 270, 200], plot: [675, 75, 854, 219], x: [0, 30, 5, 2.5], y: [-4.5, -1.5, 1, 0.5],
    sets: [series(seqCr16FC, "g", 2), series(seqCr16ZFC, "g", 2)] },
  { inset: true, box: [600, 412, 270, 200], plot: [672, 425, 851, 577], x: [0, 14, 2, 1], y: [-0.5, 0, 0.2, 0.1], yFmt: comma,
    sets: [series(seqFe12A, "g", 2.2), series(seqFe12B, "g", 2.2), series(seqFeAnhA, "r", 2.2), series(seqFeAnhB, "r", 2.2)] }
];

panels.forEach(makePanel);
</script>
</body>
</html>
